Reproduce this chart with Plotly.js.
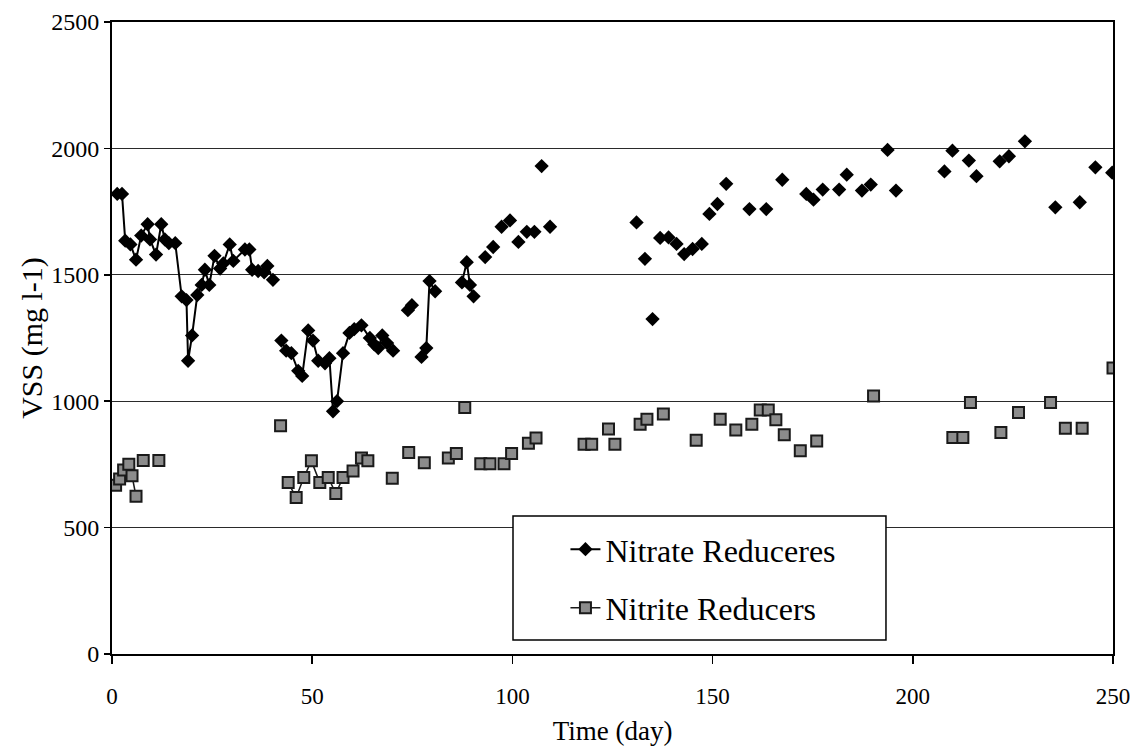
<!DOCTYPE html>
<html>
<head>
<meta charset="utf-8">
<script src="https://cdn.plot.ly/plotly-3.0.1.min.js"></script>
<style>
  html, body { margin: 0; padding: 0; background: #ffffff; }
  #chart { width: 1134px; height: 746px; }
</style>
</head>
<body>
<div id="chart"></div>
<script>
// Biomass (VSS) of the two reactor cultures over the run.
// A null entry breaks the connecting line between non-consecutive sampling days.
const nitrateDay = [
  1.3, 2.5, 3.3, 4.6, 6.0, 7.3, 8.9, 9.5, 11.0, 12.3, 13.2, 14.2, 15.8, 17.4, 18.6, 19.0, 20.0,
  21.3, 22.4, 23.2, 24.3, 25.6, 27.0, 27.8, 29.4, 30.3, 33.2, 34.3, 35.0, 36.5, 38.0, 38.8, 40.2,
  null,
  42.3, 43.5, 44.8, 46.5, 47.5, 49.0, 50.2, 51.5, 53.2, 54.3, 55.2, 56.2, 57.7, 59.3, 60.5, 62.3,
  64.4, 65.5, 66.5, 67.5, 68.7, 70.2,
  null, 73.9, 74.9,
  null, 77.3, 78.5, 79.3, 80.7,
  null, 87.4, 88.6, 89.4, 90.3,
  null, 93.2, null, 95.2, null, 97.3, null, 99.4, null, 101.5, null, 103.6, null, 105.5, null,
  107.3, null, 109.4, null, 131.0, null, 133.1, null, 135.0, null, 136.9, null, 139.0, null,
  141.0, null, 142.9, null, 145.0, null, 147.3, null, 149.2, null, 151.2, null, 153.4, null,
  159.2, null, 163.4, null, 167.4, null, 173.4, null, 175.2, null, 177.5, null, 181.6, null,
  183.5, null, 187.3, null, 189.5, null, 193.7, null, 195.8, null, 207.9, null, 209.9, null,
  214.0, null, 215.9, null, 221.7, null, 224.0, null, 228.0, null, 235.6, null, 241.7, null,
  245.6, null, 249.8
];
const nitrateVSS = [
  1820, 1820, 1635, 1620, 1560, 1655, 1700, 1640, 1580, 1700, 1640, 1625, 1625, 1415, 1400, 1160, 1260,
  1420, 1460, 1520, 1460, 1575, 1525, 1545, 1620, 1555, 1600, 1600, 1520, 1515, 1510, 1535, 1480,
  null,
  1240, 1200, 1190, 1120, 1100, 1280, 1240, 1160, 1150, 1170, 960, 1000, 1190, 1270, 1285, 1300,
  1250, 1225, 1210, 1260, 1230, 1200,
  null, 1360, 1380,
  null, 1175, 1210, 1475, 1435,
  null, 1470, 1550, 1460, 1415,
  null, 1570, null, 1610, null, 1690, null, 1715, null, 1630, null, 1670, null, 1670, null,
  1930, null, 1690, null, 1707, null, 1563, null, 1325, null, 1646, null, 1648, null,
  1622, null, 1582, null, 1602, null, 1622, null, 1741, null, 1780, null, 1860, null,
  1760, null, 1760, null, 1876, null, 1820, null, 1797, null, 1837, null, 1837, null,
  1896, null, 1833, null, 1857, null, 1994, null, 1833, null, 1909, null, 1991, null,
  1952, null, 1890, null, 1949, null, 1969, null, 2028, null, 1767, null, 1787, null,
  1925, null, 1904
];

const nitriteDay = [
  0.9, 1.9, 2.9, 4.2, 5.0, 6.0,
  null, 7.8, null, 11.7, null, 42.1,
  null, 44.0, 46.0, 47.9, 49.8, 51.9, 54.0, 55.9, 57.7, 60.2, 62.3, 63.9,
  null, 70.0, null, 74.1, null, 78.0, null, 84.0, null, 86.0, null, 88.1, null, 92.1, null,
  94.4, null, 97.9, null, 99.8, null, 104.0, null, 105.9, null, 117.9, null, 119.8, null,
  124.0, null, 125.6, null, 131.9, null, 133.6, null, 137.7, null, 145.9, null, 151.9, null,
  155.8, null, 159.8, null, 161.9, null, 163.9, null, 165.8, null, 167.9, null, 171.9, null,
  176.0, null, 190.2, null, 210.0, null, 212.5, null, 214.4, null, 222.0, null, 226.4, null,
  234.4, null, 238.1, null, 242.3, null, 250.0
];
const nitriteVSS = [
  668, 692, 728, 751, 705, 624,
  null, 765, null, 765, null, 903,
  null, 678, 619, 698, 764, 678, 698, 635, 698, 724, 775, 764,
  null, 695, null, 797, null, 757, null, 775, null, 793, null, 975, null, 753, null,
  753, null, 753, null, 793, null, 834, null, 854, null, 830, null, 830, null,
  890, null, 830, null, 909, null, 929, null, 949, null, 846, null, 929, null,
  886, null, 909, null, 965, null, 965, null, 927, null, 867, null, 804, null,
  843, null, 1021, null, 856, null, 856, null, 995, null, 876, null, 955, null,
  995, null, 893, null, 893, null, 1131
];

const xTicks = [0, 50, 100, 150, 200, 250];
const yTicks = [0, 500, 1000, 1500, 2000, 2500];

const serif = 'Liberation Serif';

const traces = [
  {
    type: 'scatter',
    mode: 'lines+markers',
    name: 'Nitrate Reduceres',
    legendgroup: 'nitrate',
    x: nitrateDay,
    y: nitrateVSS,
    connectgaps: false,
    line: { color: '#000000', width: 2 },
    marker: { symbol: 'diamond', size: 11, color: '#000000', line: { width: 0 } },
    hoverinfo: 'x+y'
  },
  {
    type: 'scatter',
    mode: 'lines+markers',
    name: 'Nitrite Reducers',
    legendgroup: 'nitrite',
    x: nitriteDay,
    y: nitriteVSS,
    connectgaps: false,
    line: { color: '#1a1a1a', width: 1.5 },
    marker: { symbol: 'square', size: 11, color: '#8c8c8c', line: { color: '#1a1a1a', width: 2 } },
    hoverinfo: 'x+y'
  }
];

// Paper-space frame drawn around the legend entries
const legendBox = { x0: 0.4006, x1: 0.7732, y0: 0.0222, y1: 0.2184 };

const layout = {
  width: 1134,
  height: 746,
  margin: { l: 112, r: 21, t: 22, b: 92 },
  paper_bgcolor: '#ffffff',
  plot_bgcolor: '#ffffff',
  font: { family: serif, color: '#000000', size: 22 },
  showlegend: true,
  legend: {
    x: 0.453, xanchor: 'left',
    y: 0.209, yanchor: 'top',
    bgcolor: 'rgba(0,0,0,0)',
    borderwidth: 0,
    traceorder: 'grouped',
    tracegroupgap: 14,
    font: { family: serif, size: 32, color: '#000000' }
  },
  xaxis: {
    range: [0, 250],
    tickvals: xTicks,
    ticktext: xTicks.map(String),
    ticks: 'outside',
    ticklen: 8,
    tickwidth: 1.5,
    tickcolor: '#000000',
    ticklabelstandoff: 12,
    showgrid: false,
    zeroline: false,
    showline: true,
    linecolor: '#000000',
    linewidth: 2,
    mirror: true,
    tickfont: { family: serif, size: 23, color: '#000000' },
    title: { text: 'Time (day)', font: { family: serif, size: 27, color: '#000000' }, standoff: 14 }
  },
  yaxis: {
    range: [0, 2500],
    tickvals: yTicks,
    ticktext: yTicks.map(String),
    ticks: 'outside',
    ticklen: 6,
    tickwidth: 1.5,
    tickcolor: '#000000',
    showgrid: true,
    gridcolor: '#2a2a2a',
    gridwidth: 1.3,
    zeroline: false,
    showline: true,
    linecolor: '#000000',
    linewidth: 2,
    mirror: true,
    tickfont: { family: serif, size: 24, color: '#000000' },
    title: { text: 'VSS (mg l-1)', font: { family: serif, size: 30, color: '#000000' }, standoff: 0 }
  },
  shapes: [
    {
      type: 'rect', xref: 'paper', yref: 'paper',
      x0: legendBox.x0, x1: legendBox.x1, y0: legendBox.y0, y1: legendBox.y1,
      line: { color: '#000000', width: 1.5 },
      fillcolor: '#ffffff',
      layer: 'above'
    }
  ]
};

Plotly.newPlot('chart', traces, layout, { displayModeBar: false, staticPlot: true });
</script>
</body>
</html>
